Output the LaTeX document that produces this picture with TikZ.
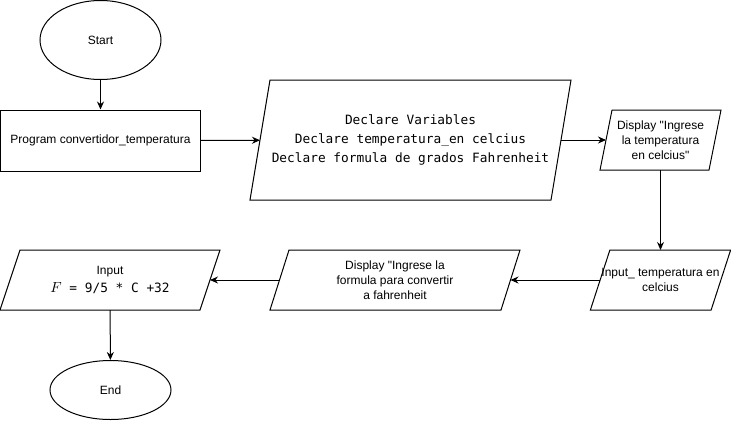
\documentclass[tikz,border=0pt]{standalone}
\usepackage{fontspec}
\setmainfont{Liberation Sans}
\setmonofont{DejaVu Sans Mono}
\usetikzlibrary{shapes.geometric,arrows.meta}

\begin{document}
\begin{tikzpicture}[x=0.75pt,y=-0.75pt,
    every node/.style={draw,line width=0.75pt,inner sep=1pt,align=center,
        font=\fontsize{9}{11.25}\selectfont},
    terminal/.style={ellipse,minimum width=90.75pt},
    io/.style={draw=none,outer sep=0pt,minimum height=45pt}]
    \useasboundingbox (0,0) rectangle (731,421);

    \node[terminal,minimum height=59.25pt] (S) at (100.5,40) {Start};
    \node[minimum width=150pt,minimum height=45.75pt] (P) at (100.5,140.5) {Program convertidor\_temperatura};
    \node[io,minimum width=225.75pt,minimum height=90pt,
        font=\ttfamily\fontsize{9.6}{13.9}\selectfont] (V) at (410.5,140)
        {Declare Variables\\Declare temperatura\_en celcius\\Declare formula de grados Fahrenheit};
    \node[io,minimum width=81.75pt] (D1) at (660.5,140)
        {Display \textquotedbl Ingrese\\la temperatura\\en celcius\textquotedbl};
    \node[io,minimum width=89.6pt] (I1) at (660.5,280)
        {Input\_ temperatura en\\celcius};
    \node[io,minimum width=173.25pt] (D2) at (395,280)
        {Display \textquotedbl Ingrese la\\formula para convertir\\a fahrenheit};
    \node[io,minimum width=150pt] (I2) at (110,280)
        {Input\\[2.25pt]{\fontsize{10.5}{13.9}\selectfont$F$\ttfamily\fontsize{9.6}{13.9}\selectfont{} = 9/5 * C +32}};
    \node[terminal,minimum height=44.25pt] (E) at (110.5,390) {End};

    % slanted outlines of the input/output boxes
    \foreach \n/\s in {V/10,D1/6,I1/9.75,D2/9.5,I2/10}
        \draw[line width=0.75pt] ([shift={(\s,0)}]\n.north west) -- ([shift={(\s,0)}]\n.north east)
            -- ([shift={(-\s,0)}]\n.south east) -- ([shift={(-\s,0)}]\n.south west) -- cycle;

    \begin{scope}[every path/.style={-{Stealth[length=6pt,width=5.25pt]},line width=0.75pt}]
        \path (S) edge (P);
        \path (P) edge (V);
        \path (V) edge (D1);
        \path (D1) edge (I1);
        \path (I1) edge (D2);
        \path (D2) edge (I2);
        \path (I2) edge (E);
    \end{scope}
\end{tikzpicture}
\end{document}
